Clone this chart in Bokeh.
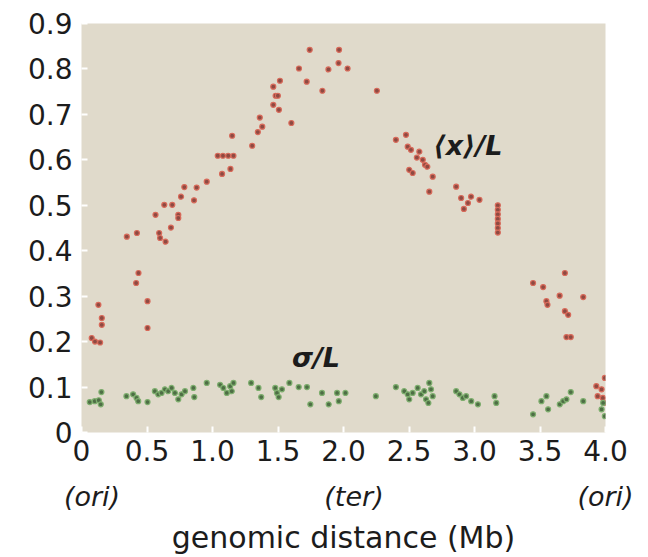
from bokeh.plotting import figure
from bokeh.models import LinearAxis, FixedTicker, Range1d, Label
from bokeh.embed import file_html
from bokeh.resources import INLINE

# ---- data: mean position <x>/L (red) ----
mean_x = [0.078, 0.103, 0.142, 0.129, 0.155, 0.155, 0.504, 0.504, 0.435, 0.417,
          0.346, 0.423, 0.593, 0.600, 0.642, 0.683, 0.565, 0.632, 0.693, 0.739,
          0.739, 0.760, 0.859, 0.785, 0.879, 0.956, 1.073, 1.137, 1.040, 1.080,
          1.120, 1.160, 1.150, 1.303, 1.346, 1.380, 1.361, 1.464, 1.515, 1.482,
          1.499, 1.464, 1.507, 1.602, 1.660, 1.742, 1.719, 1.839, 1.885, 1.966,
          1.962, 2.031, 2.255, 2.400, 2.477, 2.490, 2.515, 2.579, 2.605, 2.622,
          2.502, 2.528, 2.681, 2.655, 2.640, 2.560, 2.860, 2.898, 2.974, 3.038,
          2.919, 2.950, 3.178, 3.178, 3.178, 3.178, 3.178, 3.178, 3.178, 3.690,
          3.447, 3.524, 3.650, 3.830, 3.549, 3.557, 3.690, 3.715, 3.702, 3.735,
          3.995, 3.930, 3.970, 3.940, 3.980, 3.995]
mean_y = [0.208, 0.200, 0.198, 0.281, 0.252, 0.237, 0.289, 0.230, 0.351, 0.329,
          0.431, 0.439, 0.439, 0.428, 0.420, 0.451, 0.479, 0.501, 0.501, 0.479,
          0.472, 0.519, 0.511, 0.540, 0.539, 0.552, 0.569, 0.580, 0.609, 0.609,
          0.609, 0.609, 0.653, 0.631, 0.661, 0.673, 0.693, 0.761, 0.774, 0.741,
          0.741, 0.721, 0.710, 0.681, 0.801, 0.842, 0.772, 0.752, 0.799, 0.842,
          0.813, 0.801, 0.752, 0.644, 0.655, 0.629, 0.622, 0.618, 0.600, 0.589,
          0.578, 0.571, 0.563, 0.530, 0.585, 0.605, 0.541, 0.516, 0.519, 0.512,
          0.492, 0.505, 0.500, 0.490, 0.480, 0.470, 0.460, 0.450, 0.440, 0.351,
          0.329, 0.320, 0.301, 0.298, 0.289, 0.281, 0.267, 0.259, 0.210, 0.210,
          0.120, 0.102, 0.095, 0.080, 0.076, 0.065]

# ---- data: spread sigma/L (green) ----
sig_x = [0.063, 0.101, 0.132, 0.152, 0.147, 0.343, 0.394, 0.420, 0.433, 0.504,
         0.560, 0.586, 0.611, 0.637, 0.662, 0.688, 0.713, 0.739, 0.764, 0.790,
         0.854, 0.861, 0.956, 1.058, 1.083, 1.109, 1.135, 1.160, 1.147, 1.295,
         1.351, 1.372, 1.479, 1.492, 1.505, 1.530, 1.587, 1.658, 1.721, 1.747,
         1.836, 1.887, 1.951, 1.964, 2.015, 2.247, 2.400, 2.464, 2.490, 2.502,
         2.528, 2.566, 2.592, 2.617, 2.630, 2.655, 2.668, 2.681, 2.648, 2.860,
         2.885, 2.911, 2.936, 2.975, 3.026, 3.153, 3.166, 3.447, 3.511, 3.549,
         3.562, 3.651, 3.677, 3.702, 3.735, 3.830, 3.970, 3.995, 3.982]
sig_y = [0.067, 0.069, 0.071, 0.089, 0.062, 0.080, 0.084, 0.076, 0.069, 0.067,
         0.091, 0.084, 0.087, 0.095, 0.091, 0.098, 0.087, 0.073, 0.084, 0.091,
         0.098, 0.078, 0.109, 0.105, 0.098, 0.087, 0.102, 0.109, 0.091, 0.109,
         0.098, 0.078, 0.098, 0.087, 0.078, 0.095, 0.109, 0.100, 0.100, 0.062,
         0.087, 0.062, 0.087, 0.069, 0.087, 0.080, 0.100, 0.091, 0.084, 0.073,
         0.087, 0.098, 0.084, 0.091, 0.073, 0.109, 0.095, 0.080, 0.065, 0.091,
         0.084, 0.076, 0.080, 0.069, 0.062, 0.080, 0.065, 0.040, 0.069, 0.080,
         0.051, 0.062, 0.069, 0.073, 0.089, 0.069, 0.051, 0.036, 0.065]

# ---- ticks and labels ----
x_ticks = [0, 0.5, 1.0, 1.5, 2.0, 2.5, 3.0, 3.5, 4.0]
x_tick_labels = ["0", "0.5", "1.0", "1.5", "2.0", "2.5", "3.0", "3.5", "4.0"]
y_ticks = [0, 0.1, 0.2, 0.3, 0.4, 0.5, 0.6, 0.7, 0.8, 0.9]
y_tick_labels = ["0", "0.1", "0.2", "0.3", "0.4", "0.5", "0.6", "0.7", "0.8", "0.9"]
site_ticks = [0.08, 2.08, 4.0]
site_labels = ["(ori)", "(ter)", "(ori)"]
x_title = "genomic distance (Mb)"
mean_label = "⟨x⟩/L"
sigma_label = "σ/L"

FONT = "DejaVu Sans"
TXT = "#1c1c1c"

p = figure(width=648, height=557, output_backend="svg", toolbar_location=None,
           x_range=Range1d(0, 4.0), y_range=Range1d(0, 0.9),
           x_axis_location=None, y_axis_location=None,
           min_border_left=81, min_border_right=43, min_border_top=23,
           min_border_bottom=124)
p.background_fill_color = "#E0DACB"
p.border_fill_color = "white"
p.outline_line_color = None
p.grid.visible = False

# y axis
ya = LinearAxis(ticker=FixedTicker(ticks=y_ticks),
                major_label_overrides={t: l for t, l in zip(y_ticks, y_tick_labels)})
ya.axis_line_color = None
ya.major_tick_in = 6
ya.major_tick_out = 0
ya.major_tick_line_color = "white"
ya.major_tick_line_width = 2
ya.minor_tick_line_color = None
ya.major_label_text_font = FONT
ya.major_label_text_font_size = "28px"
ya.major_label_text_color = TXT
ya.major_label_standoff = 9
p.add_layout(ya, "left")

# x axis (numbers)
xa = LinearAxis(ticker=FixedTicker(ticks=x_ticks),
                major_label_overrides={t: l for t, l in zip(x_ticks, x_tick_labels)})
xa.axis_line_color = None
xa.major_tick_in = 6
xa.major_tick_out = 0
xa.major_tick_line_color = "white"
xa.major_tick_line_width = 2
xa.minor_tick_line_color = None
xa.major_label_text_font = FONT
xa.major_label_text_font_size = "28px"
xa.major_label_text_color = TXT
xa.major_label_standoff = 7
p.add_layout(xa, "below")

# x axis (ori / ter) + title
xb = LinearAxis(ticker=FixedTicker(ticks=site_ticks),
                major_label_overrides={t: l for t, l in zip(site_ticks, site_labels)})
xb.axis_line_color = None
xb.major_tick_line_color = None
xb.minor_tick_line_color = None
xb.major_label_text_font = FONT
xb.major_label_text_font_style = "italic"
xb.major_label_text_font_size = "27px"
xb.major_label_text_color = TXT
xb.major_label_standoff = 11
xb.axis_label = x_title
xb.axis_label_text_font = FONT
xb.axis_label_text_font_style = "normal"
xb.axis_label_text_font_size = "30px"
xb.axis_label_text_color = TXT
xb.axis_label_standoff = 5
p.add_layout(xb, "below")

p.scatter(mean_x, mean_y, size=5, marker="circle",
          fill_color="#8E4A42", line_color="#D86A5A", line_width=1.2)
p.scatter(sig_x, sig_y, size=5, marker="circle",
          fill_color="#4E6E45", line_color="#7EAE6E", line_width=1.2)

p.add_layout(Label(x=2.95, y=0.631, text=mean_label, text_align="center",
                   text_baseline="middle", text_font=FONT, text_font_size="27px",
                   text_font_style="bold italic", text_color=TXT))
p.add_layout(Label(x=1.79, y=0.165, text=sigma_label, text_align="center",
                   text_baseline="middle", text_font=FONT, text_font_size="27px",
                   text_font_style="bold italic", text_color=TXT))

open("out.html", "w").write(file_html(p, INLINE))
